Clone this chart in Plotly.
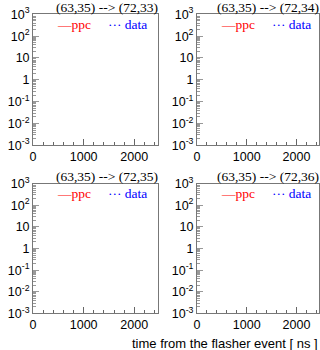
import plotly.graph_objects as go

# ---- data ----
panel_titles = ["(63,35) --> (72,33)", "(63,35) --> (72,34)",
                "(63,35) --> (72,35)", "(63,35) --> (72,36)"]
ppc_time = [[], [], [], []]
ppc_counts = [[], [], [], []]
data_time = [[], [], [], []]
data_counts = [[], [], [], []]
x_ticks = [0, 1000, 2000]
x_tick_labels = ["0", "1000", "2000"]
y_ticks = [1e-3, 1e-2, 1e-1, 1, 10, 100, 1000]
y_tick_labels = ["10<sup>-3</sup>", "10<sup>-2</sup>", "10<sup>-1</sup>", "1",
                 "10", "10<sup>2</sup>", "10<sup>3</sup>"]
x_title = "time from the flasher event [ ns ]"

W, H = 320, 350


def px(P):  # target pixel -> figure pixel (x)
    return (P - 3.3) / 0.979


def py(P):  # target pixel -> figure pixel (y)
    return (P - 8.7) / 0.9475


def paper_x(P):
    return px(P) / W


def paper_y(P):
    return 1 - py(P) / H


# panel frames in target pixels (left, right, top, bottom)
frames = [(33, 156, 14, 144), (195, 316, 14, 144),
          (33, 156, 182, 311), (195, 316, 182, 311)]

fig = go.Figure()
axis_font = dict(family="Liberation Sans, Arial, sans-serif", size=12.5, color="black")
serif = "Liberation Serif, Times New Roman, serif"

for i, (l, r, t, b) in enumerate(frames):
    n = "" if i == 0 else str(i + 1)
    xd = [paper_x(l), paper_x(r)]
    yd = [paper_y(b), paper_y(t)]
    fig.add_trace(go.Scatter(x=ppc_time[i], y=ppc_counts[i], mode="lines",
                             line=dict(color="red", width=1), showlegend=False,
                             xaxis="x" + n, yaxis="y" + n))
    fig.add_trace(go.Scatter(x=data_time[i], y=data_counts[i], mode="lines",
                             line=dict(color="blue", width=1, dash="dot"), showlegend=False,
                             xaxis="x" + n, yaxis="y" + n))
    fig.layout["xaxis" + n] = dict(
        domain=xd, anchor="y" + n, range=[0, 2460], tickvals=x_ticks, ticktext=x_tick_labels,
        ticks="inside", ticklen=6, tickcolor="#666", tickwidth=1,
        minor=dict(dtick=200, ticks="inside", ticklen=3, tickcolor="#666"),
        showline=True, linecolor="#777", linewidth=1, mirror=True,
        showgrid=False, zeroline=False, tickfont=axis_font, fixedrange=True)
    fig.layout["yaxis" + n] = dict(
        domain=yd, anchor="x" + n, type="log", range=[-3, 3], tickvals=y_ticks,
        ticktext=y_tick_labels, ticks="inside", ticklen=6, tickcolor="#999",
        minor=dict(dtick="D1", ticks="inside", ticklen=3, tickcolor="#999", showgrid=False),
        showline=True, linecolor="#777", linewidth=1, mirror=True,
        showgrid=False, zeroline=False, tickfont=axis_font, fixedrange=True)
    # panel title
    fig.add_annotation(text=panel_titles[i], xref="paper", yref="paper",
                       x=paper_x(r + 1), y=paper_y(t - 7), xanchor="right", yanchor="middle",
                       borderpad=0, showarrow=False,
                       font=dict(family=serif, size=13.5, color="black"))
    # legend entries
    fig.add_annotation(text="\u2014ppc", xref="paper", yref="paper",
                       x=paper_x(l + 23), y=paper_y(t + 10), xanchor="left", yanchor="middle",
                       borderpad=0, showarrow=False, font=dict(family=serif, size=13.5, color="red"))
    fig.add_annotation(text="\u00b7\u00b7\u00b7 data", xref="paper", yref="paper",
                       x=paper_x(l + 73), y=paper_y(t + 10), xanchor="left", yanchor="middle",
                       borderpad=0, showarrow=False, font=dict(family=serif, size=13.5, color="blue"))

fig.add_annotation(text=x_title, xref="paper", yref="paper", x=paper_x(316), y=paper_y(341),
                   xanchor="right", yanchor="middle", borderpad=0, showarrow=False,
                   font=dict(family=axis_font["family"], size=13, color="black"))

fig.update_layout(width=W, height=H, margin=dict(l=0, r=0, t=0, b=0),
                  paper_bgcolor="white", plot_bgcolor="white", showlegend=False)
fig.write_html(
    "out.html", config={"displayModeBar": False},
    post_script=(
        "var d=document.getElementsByClassName('plotly-graph-div')[0];"
        "d.style.position='fixed';d.style.left='0px';d.style.top='0px';"
        "document.body.style.margin='0';document.body.style.padding='0';"
        "document.body.style.overflow='hidden';"
        "document.documentElement.style.overflow='hidden';"
    ))
